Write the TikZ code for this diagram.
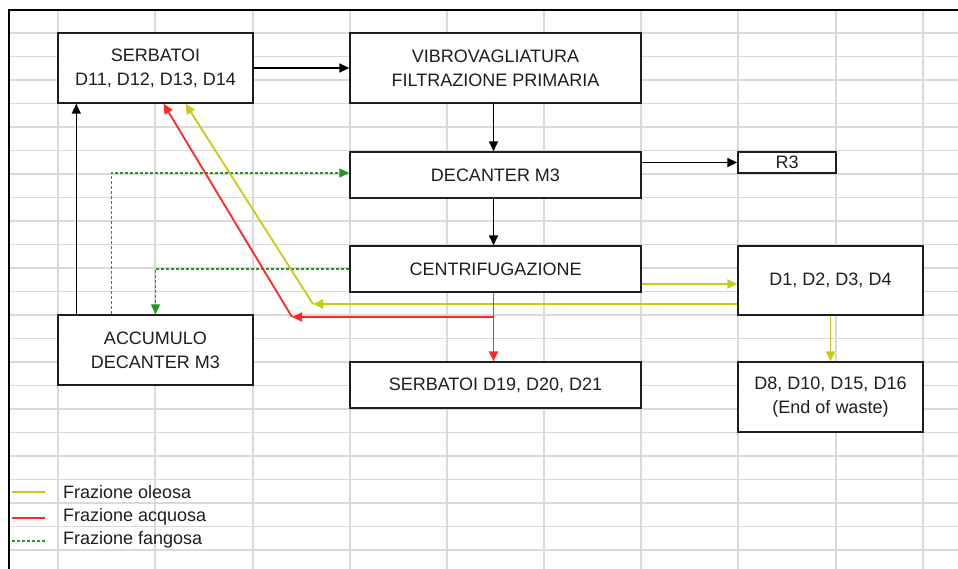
\documentclass[tikz,border=0pt]{standalone}
\usepackage{fontspec}
\setmainfont{Liberation Sans}
\usepackage{xcolor}
\usetikzlibrary{arrows.meta}
\definecolor{OilYellow}{HTML}{C9C916}
\definecolor{WaterRed}{HTML}{FF2626}
\definecolor{MudGreen}{HTML}{1F9A1F}
\definecolor{CellGray}{HTML}{DADADA}
\definecolor{InkGray}{HTML}{1E1E1E}

\begin{document}
\begin{tikzpicture}[x=1pt, y=-1pt,
    box/.style={draw=InkGray, line width=1.4pt, fill=white, align=center,
                inner sep=0pt, text=InkGray,
                font=\fontsize{18}{24}\selectfont},
    tip/.style={-{Triangle[length=10pt, width=9pt]}},
    flow/.style={tip, draw=black, line width=1.5pt},
    oleosa/.style={tip, draw=OilYellow, line width=1.8pt},
    acquosa/.style={tip, draw=WaterRed, line width=1.8pt},
    fangosa/.style={tip, draw=MudGreen, line width=1.3pt,
                    dash pattern=on 3pt off 2pt},
    legend/.style={anchor=west, inner sep=0pt, text=InkGray,
                   font=\fontsize{18}{24}\selectfont}]
  \useasboundingbox (0,0) rectangle (958,569);
  \fill[white] (0,0) rectangle (958,569);
  \foreach \gx in {58,155,253,350,447,544,641,738,836,923}
    \draw[CellGray, line width=1.3pt] (\gx,10) -- (\gx,569);
  \foreach \k in {0,...,22}
    \draw[CellGray, line width=1.3pt] (9,33+23.5*\k) -- (958,33+23.5*\k);
  \draw[black, line width=1.5pt] (958,10) -- (9,10) -- (9,569);

  \node[box, minimum width=195pt, minimum height=70pt] (serb) at (155.5,68)
    {SERBATOI\\D11, D12, D13, D14};
  \node[box, minimum width=291pt, minimum height=70pt] (vibro) at (495.5,68)
    {VIBROVAGLIATURA\\FILTRAZIONE PRIMARIA};
  \node[box, minimum width=291pt, minimum height=46pt] (dec) at (495.5,175)
    {DECANTER M3};
  \node[box, minimum width=98pt, minimum height=21pt] (r3) at (787,162.5)
    {R3};
  \node[box, minimum width=291pt, minimum height=46pt] (centr) at (495.5,269)
    {CENTRIFUGAZIONE};
  \node[box, minimum width=185pt, minimum height=69pt] (dd) at (830.5,280.5)
    {D1, D2, D3, D4};
  \node[box, minimum width=195pt, minimum height=70pt] (acc) at (155.5,350)
    {ACCUMULO\\DECANTER M3};
  \node[box, minimum width=291pt, minimum height=46pt] (serbb) at (495.5,385)
    {SERBATOI D19, D20, D21};
  \node[box, minimum width=185pt, minimum height=70pt] (eow) at (830.5,397)
    {D8, D10, D15, D16\\(End of waste)};

  \coordinate (yturn) at (313,304);
  \coordinate (rsplit) at (493,317);
  \coordinate (rturn) at (292,317);
  \coordinate (gfeed) at ([xshift=54pt]acc.north west);

  \draw[flow] (serb.east) -- (vibro.west);
  \draw[flow] ([xshift=-2pt]vibro.south) -- ([xshift=-2pt]dec.north);
  \draw[flow] ([xshift=-2pt]dec.south) -- ([xshift=-2pt]centr.north);
  \draw[flow] (r3.west -| dec.east) -- (r3.west);
  \draw[flow] ([xshift=19pt]acc.north west) -- ([xshift=19pt]serb.south west);

  \draw[fangosa] (gfeed) |- ([yshift=2pt]dec.west);
  \draw[fangosa] (centr.west) -| (acc.north);

  \draw[oleosa] ([yshift=-15pt]centr.east) -- ([yshift=-15pt]centr.east -| dd.west);
  \draw[oleosa] (yturn -| dd.west) -- (yturn);
  \draw[oleosa] (yturn) -- ([xshift=30pt]serb.south);
  \draw[oleosa] (dd.south) -- (eow.north);

  \draw[acquosa] ([xshift=-2pt]centr.south) -- ([xshift=-2pt]serbb.north);
  \draw[acquosa] (rsplit) -- (rturn);
  \draw[acquosa] (rturn) -- ([xshift=8pt]serb.south);

  \node[legend] (lgo) at (63,492) {Frazione oleosa};
  \node[legend] (lga) at (63,517) {Frazione acquosa};
  \node[legend] (lgf) at (63,540) {Frazione fangosa};
  \draw[OilYellow, line width=1.8pt] (12,492) -- (45,492);
  \draw[WaterRed, line width=1.8pt] (12,518) -- (45,518);
  \draw[MudGreen, line width=1.3pt, dash pattern=on 3pt off 2pt] (12,541) -- (47,541);
\end{tikzpicture}
\end{document}
